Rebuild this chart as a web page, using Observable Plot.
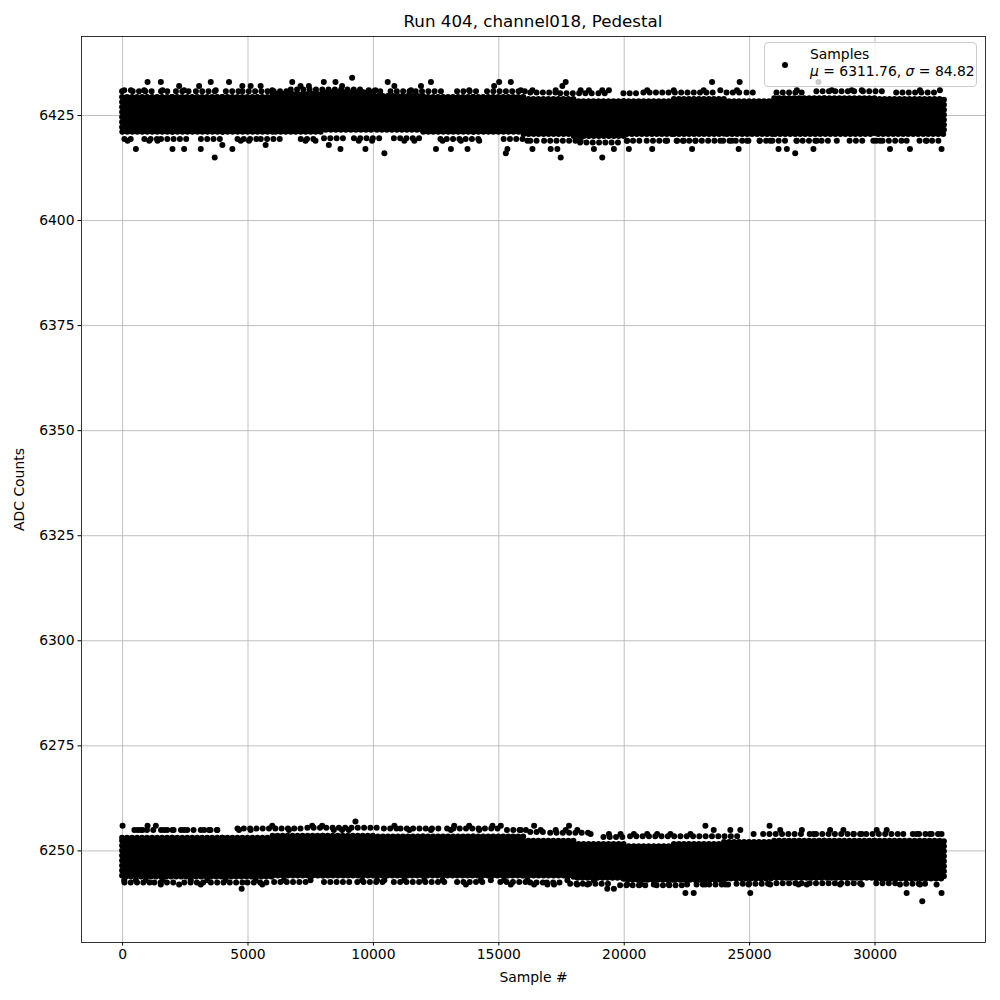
<!DOCTYPE html>
<html>
<head>
<meta charset="utf-8">
<script src="https://cdn.jsdelivr.net/npm/d3@7"></script>
<script src="https://cdn.jsdelivr.net/npm/@observablehq/plot@0.6"></script>
<style>
  html, body { margin: 0; padding: 0; background: white; }
  #wrap { position: relative; width: 1000px; height: 1000px; font-family: "DejaVu Sans", sans-serif; }
  #title { position: absolute; left: 81px; width: 904px; top: 11px; text-align: center; font-size: 16.7px; line-height: 20px; }
  #legend { position: absolute; left: 764px; top: 42px; width: 213px; height: 45px; box-sizing: border-box;
            border: 1px solid #cccccc; border-radius: 4px; background: rgba(255,255,255,0.8); font-size: 13.9px; }
  #legend .dot { position: absolute; left: 17px; top: 19px; width: 6px; height: 6px; border-radius: 50%; background: black; }
  #legend .t1 { position: absolute; left: 45px; top: 3px; }
  #legend .t2 { position: absolute; left: 45px; top: 20px; white-space: nowrap; }
</style>
</head>
<body>
<div id="wrap">
  <div id="chart"></div>
  <div id="title">Run 404, channel018, Pedestal</div>
  <div id="legend"><div class="dot"></div><div class="t1">Samples</div><div class="t2"><i>μ</i> = 6311.76, <i>σ</i> = 84.82</div></div>
</div>
<script>
// Tick values
const xTicks = [0, 5000, 10000, 15000, 20000, 25000, 30000];
const yTicks = [6250, 6275, 6300, 6325, 6350, 6375, 6400, 6425];

// Dense core of each band, per 2000-sample bin (levels)
const binStart = [0, 2000, 4000, 6000, 8000, 10000, 12000, 14000, 16000, 18000, 20000, 22000, 24000, 26000, 28000, 30000];
const binEnd   = [2000, 4000, 6000, 8000, 10000, 12000, 14000, 16000, 18000, 20000, 22000, 24000, 26000, 28000, 30000, 32767];
const upperLo  = [6421, 6421, 6421, 6421, 6421.5, 6421.5, 6421, 6421, 6420.5, 6420, 6420.5, 6420.5, 6420.5, 6420.5, 6420.5, 6420.5];
const upperHi  = [6429.3, 6429.3, 6429.3, 6430, 6430.5, 6429.5, 6429.3, 6429.3, 6428.8, 6428.3, 6428.3, 6428.8, 6428.3, 6429, 6429, 6428.8];
const lowerLo  = [6243.8, 6243.8, 6243.8, 6244, 6244, 6244, 6244, 6244, 6244, 6243.5, 6243, 6243, 6243.3, 6243.5, 6243.5, 6243.3];
const lowerHi  = [6253, 6253, 6253, 6253.5, 6253.5, 6253.3, 6253.3, 6253.3, 6252.3, 6251.5, 6251, 6251.5, 6252, 6252.3, 6252.3, 6252.3];

// Semi-dense rows of samples just outside each core: runs [start, end] and level
const upTopX1 = [0, 424, 1552, 2148, 2944, 4138, 4801, 5796, 6725, 10040, 10703, 13357, 14550, 16274, 17468, 18993, 19988, 20784, 24100, 24896, 26090, 27681, 29538, 30864];
const upTopX2 = [225, 1286, 1883, 2812, 3939, 4668, 5663, 6592, 9643, 10438, 12826, 14152, 16142, 17335, 18794, 19457, 20651, 23702, 24763, 25294, 27283, 29405, 30334, 32589];
const upTopY  = [6430.8, 6430.8, 6430.8, 6430.8, 6430.8, 6430.8, 6430.8, 6430.8, 6431.2, 6430.8, 6430.8, 6430.8, 6430.8, 6430.5, 6430.3, 6430.3, 6430.3, 6430.5, 6430.5, 6430.5, 6430.5, 6430.8, 6430.8, 6430.5];
const upBotX1 = [93, 889, 1552, 3143, 4602, 5531, 7123, 8051, 9245, 10836, 12693, 15213, 16274, 17070, 18264, 20120, 20916, 22110, 23967, 25426, 26885, 29007, 30069, 31793];
const upBotX2 = [490, 1419, 2613, 3939, 5398, 6459, 7653, 8847, 10438, 12030, 14417, 16142, 16672, 18131, 19855, 20651, 21845, 23702, 25028, 26620, 28212, 29670, 31262, 32589];
const upBotY  = [6419.4, 6419.4, 6419.4, 6419.4, 6419.4, 6419.4, 6419.4, 6419.6, 6419.6, 6419.6, 6419.4, 6419.4, 6419, 6419, 6418.6, 6419, 6419, 6419, 6419, 6419, 6419, 6419, 6419, 6419];
const loTopX1 = [490, 1552, 2347, 3276, 4602, 7388, 10438, 11102, 12959, 15346, 16274, 17070, 19192, 20253, 25559, 27416, 29670, 31527];
const loTopX2 = [1419, 2082, 3011, 3939, 7255, 10173, 10969, 12826, 15081, 16274, 16805, 18661, 20120, 24763, 27283, 29538, 31129, 32767];
const loTopY  = [6255, 6255, 6255, 6255, 6255.3, 6255.5, 6255.3, 6255.3, 6255.3, 6255, 6254.5, 6254.3, 6253.3, 6253.5, 6254, 6254, 6254, 6254];
const loBotX1 = [93, 1286, 2480, 3541, 5000, 6062, 8051, 9378, 10836, 13357, 15081, 16274, 16937, 17866, 19855, 21314, 22906, 24498, 26090, 27416, 30069, 31262];
const loBotX2 = [1154, 2215, 3276, 4868, 5796, 7521, 9113, 10438, 12959, 14417, 16142, 16805, 17600, 19590, 21049, 22376, 24232, 25824, 27150, 29538, 30997, 32191];
const loBotY  = [6242.5, 6242.5, 6242.5, 6242.5, 6242.5, 6242.6, 6242.6, 6242.6, 6242.6, 6242.6, 6242.6, 6242.5, 6242.5, 6242.2, 6241.8, 6241.8, 6242, 6242.2, 6242.3, 6242.3, 6242.3, 6242.2];

// Sparse samples farther out (sample #, ADC counts)
const upperOutX = [995, 1525, 3515, 4244, 6764, 8024, 8488, 9151,
  66, 332, 862, 1592, 2255, 2454, 3051, 3714, 4775, 5106, 5504, 5968, 7095, 7428, 8753, 9815, 10079,
  199, 1061, 1393, 4708, 5040, 7294, 7692, 9417, 9947, 3979, 5703, 8223,
  530, 1989, 2454, 3117, 4377, 8687, 9682, 3674,
  10571, 12295, 15013, 15478, 17666, 10836, 11897, 14814, 17534,
  11499, 13819, 15876, 16341, 17268, 18263, 18594, 19125, 19390, 20916, 21976,
  11233, 11631, 12759, 13488, 14217, 16142, 16805, 18263, 20120, 21712, 22110,
  12494, 13090, 13753, 15345, 16341, 17069, 17335, 18792, 19589, 20185, 21115,
  10438, 15279, 17467, 19125,
  23502, 24603, 27745, 23170, 23833, 24497, 26884, 28277, 29073, 29471, 31791, 32587,
  22374, 22838, 23833, 24298, 24895, 25397, 25822, 26884, 27680, 28476, 29933, 30199, 31261, 32057,
  22706, 24563, 26153, 26486, 27546, 30597, 31393, 32653, 26818];
const upperOutY = [6433, 6433, 6433, 6433, 6433, 6433, 6433, 6434,
  6431, 6431, 6431, 6431, 6432, 6431, 6432, 6431, 6432, 6432, 6432, 6431, 6432, 6432, 6432, 6431, 6431,
  6419, 6419, 6419, 6419, 6419, 6419, 6419, 6419, 6419, 6418, 6418, 6418,
  6417, 6417, 6417, 6417, 6417, 6417, 6417, 6415,
  6433, 6433, 6433, 6433, 6433, 6432, 6432, 6432, 6432,
  6431, 6431, 6431, 6431, 6431, 6431, 6431, 6431, 6431, 6431, 6431,
  6419, 6419, 6419, 6419, 6419, 6419, 6419, 6419, 6419, 6419, 6419,
  6417, 6417, 6417, 6417, 6417, 6417, 6417, 6417, 6417, 6417, 6417,
  6416, 6416, 6415, 6415,
  6433, 6433, 6433, 6431, 6431, 6431, 6431, 6431, 6431, 6431, 6431, 6431,
  6419, 6419, 6419, 6419, 6419, 6419, 6419, 6419, 6419, 6419, 6419, 6419, 6419, 6419,
  6417, 6417, 6417, 6417, 6417, 6417, 6417, 6417, 6416];

const lowerOutX = [0, 9284, 995, 1326, 5968, 7560, 7958,
  597, 796, 1658, 1989, 2454, 3117, 3448, 3780, 4642, 5106, 6632, 8422, 8753, 9019,
  66, 530, 928, 1592, 2719, 3382, 4112, 5305, 6433, 7494, 9549, 10146,
  1525, 2255, 3117, 5570, 4748,
  10836, 13222, 13819, 14748, 15080, 16407, 17799,
  11432, 12295, 13090, 14217, 15876, 16672, 17268, 17666, 18131,
  18661, 19390, 19854, 20385, 20916, 21314, 21844,
  10438, 11233, 12028, 12759, 14284, 14682, 15213, 16142, 17733, 18792,
  13687, 15478, 16407, 16938, 17201, 18131, 18530, 20120, 20650, 21179, 21776,
  19325, 19589,
  23237, 25795, 23568, 24231, 24629, 26220, 27083, 28210, 28739, 30067, 30465,
  22640, 25159, 27546, 29137, 29471, 31127, 31659, 32189, 32653,
  22507, 23237, 24032, 24960, 25822, 26950, 27280, 28608, 29471, 30995, 31791, 32454,
  22441, 22771, 25026, 31261, 32653, 31884];
const lowerOutY = [6256, 6257, 6256, 6256, 6256, 6256, 6256,
  6255, 6255, 6255, 6255, 6255, 6255, 6255, 6255, 6255, 6255, 6255, 6255, 6255, 6255,
  6243, 6243, 6243, 6243, 6243, 6243, 6243, 6243, 6243, 6243, 6243, 6243,
  6242, 6242, 6242, 6242, 6241,
  6256, 6256, 6256, 6256, 6256, 6256, 6256,
  6255, 6255, 6255, 6255, 6255, 6255, 6255, 6255, 6255,
  6254, 6254, 6254, 6254, 6254, 6254, 6254,
  6243, 6243, 6243, 6243, 6243, 6243, 6243, 6243, 6243, 6243,
  6242, 6242, 6242, 6242, 6242, 6242, 6242, 6242, 6242, 6242, 6242,
  6241, 6241,
  6256, 6256, 6255, 6255, 6255, 6255, 6255, 6255, 6255, 6255, 6255,
  6254, 6254, 6254, 6254, 6254, 6254, 6254, 6254, 6254,
  6242, 6242, 6242, 6242, 6242, 6242, 6242, 6242, 6242, 6242, 6242, 6242,
  6240, 6240, 6240, 6240, 6240, 6238];

const bins = binStart.map((s, i) => ({x1: s, x2: binEnd[i], ulo: upperLo[i], uhi: upperHi[i], llo: lowerLo[i], lhi: lowerHi[i]}));
const runs = [[upTopX1, upTopX2, upTopY], [upBotX1, upBotX2, upBotY], [loTopX1, loTopX2, loTopY], [loBotX1, loBotX2, loBotY]]
  .flatMap(([a, b, c]) => a.map((x1, i) => ({x1, x2: b[i], y: c[i]})));
const outliers = upperOutX.map((x, i) => ({x, y: upperOutY[i]}))
  .concat(lowerOutX.map((x, i) => ({x, y: lowerOutY[i]})));

const coreStyle = {fill: "black", stroke: "black", strokeWidth: 6, strokeLinecap: "round", strokeDasharray: "0,5"};

const chart = Plot.plot({
  width: 1000,
  height: 1000,
  marginTop: 36,
  marginRight: 15,
  marginBottom: 58,
  marginLeft: 81,
  style: {fontFamily: "DejaVu Sans", fontSize: "13.9px", color: "black", background: "white"},
  x: {domain: [-1638, 34405]},
  y: {domain: [6228.2, 6443.8]},
  marks: [
    Plot.gridX(xTicks, {stroke: "#b0b0b0", strokeOpacity: 1, strokeWidth: 0.8}),
    Plot.gridY(yTicks, {stroke: "#b0b0b0", strokeOpacity: 1, strokeWidth: 0.8}),
    Plot.rect(bins, {x1: "x1", x2: "x2", y1: "ulo", y2: "uhi", ...coreStyle}),
    Plot.rect(bins, {x1: "x1", x2: "x2", y1: "llo", y2: "lhi", ...coreStyle}),
    Plot.ruleY(runs, {x1: "x1", x2: "x2", y: "y", stroke: "black", strokeWidth: 6, strokeLinecap: "round", strokeDasharray: "0,6.3"}),
    Plot.dot(outliers, {x: "x", y: "y", r: 3, fill: "black", stroke: "none"}),
    Plot.axisX({ticks: xTicks, tickSize: 3.5, tickPadding: 3.5, tickFormat: d3.format("d"),
      label: "Sample #", labelAnchor: "center", labelArrow: "none", labelOffset: 39}),
    Plot.axisY({ticks: yTicks, tickSize: 3.5, tickPadding: 3.5, tickFormat: d3.format("d"),
      label: "ADC Counts", labelAnchor: "center", labelArrow: "none", labelOffset: 67}),
    Plot.frame({stroke: "black", strokeWidth: 0.8})
  ]
});
document.getElementById("chart").appendChild(chart);
</script>
</body>
</html>
